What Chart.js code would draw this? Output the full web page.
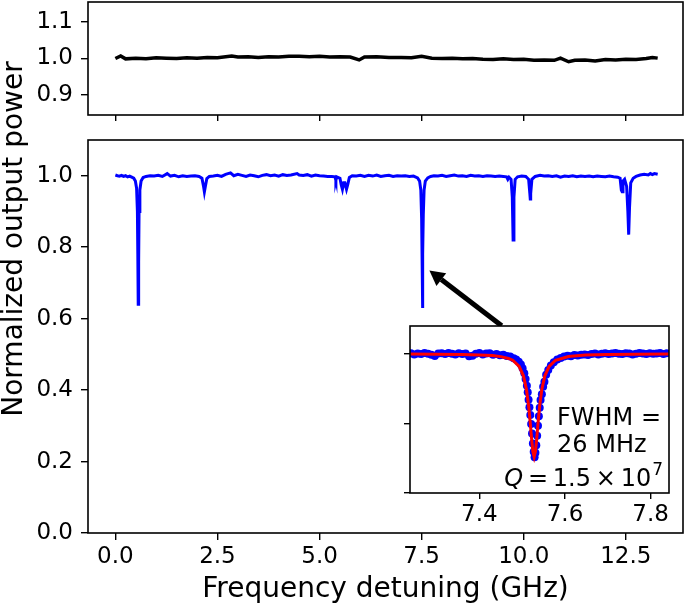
<!DOCTYPE html>
<html>
<head>
<meta charset="utf-8">
<script src="https://cdn.jsdelivr.net/npm/chart.js@4.4.0/dist/chart.umd.min.js"></script>
<style>
body{margin:0;background:#fff;}
#wrap{position:relative;width:685px;height:605px;}
canvas{position:absolute;}
</style>
</head>
<body>
<div id="wrap">
<canvas id="topChart" width="685" height="140" style="left:0;top:0"></canvas>
<canvas id="mainChart" width="685" height="605" style="left:0;top:0"></canvas>
<canvas id="insetChart" width="300" height="214" style="left:380px;top:316px"></canvas>
</div>
<script>
// reference trace (top panel)
var refFreq = [0.00,0.13,0.25,0.50,0.75,1.00,1.25,1.50,1.75,2.00,2.25,2.50,2.85,3.00,3.25,3.50,3.75,4.00,4.25,4.50,4.75,5.00,5.25,5.50,5.75,5.97,6.10,6.40,6.70,7.00,7.25,7.50,7.75,8.00,8.25,8.50,8.75,9.00,9.25,9.50,9.75,10.00,10.25,10.50,10.75,10.90,11.10,11.25,11.50,11.75,12.00,12.25,12.50,12.75,13.00,13.15,13.28];
var refPower = [1.000,1.007,0.999,1.001,0.999,1.002,1.001,1.000,1.002,1.001,1.003,1.002,1.007,1.004,1.005,1.003,1.005,1.004,1.006,1.006,1.005,1.006,1.004,1.005,1.004,0.996,1.004,1.005,1.003,1.003,1.002,1.006,1.001,1.000,1.001,0.999,1.000,0.998,0.997,0.999,0.997,0.998,0.995,0.996,0.995,1.001,0.991,0.995,0.996,0.993,0.997,0.996,0.998,0.997,1.000,1.003,1.001];

// transmission trace (bottom panel)
var mainFreq = [0.00,0.05,0.10,0.15,0.20,0.25,0.30,0.35,0.40,0.45,0.49,0.52,0.54,0.55,0.56,0.57,0.58,0.60,0.63,0.68,0.75,0.85,0.95,1.05,1.15,1.27,1.35,1.45,1.55,1.65,1.75,1.85,1.95,2.05,2.12,2.16,2.18,2.20,2.24,2.30,2.40,2.50,2.60,2.70,2.82,2.90,3.00,3.10,3.20,3.30,3.40,3.50,3.60,3.70,3.80,3.90,4.00,4.10,4.20,4.30,4.45,4.50,4.60,4.70,4.80,4.90,5.00,5.10,5.20,5.30,5.38,5.40,5.42,5.50,5.53,5.56,5.59,5.62,5.66,5.69,5.73,5.80,5.90,6.00,6.10,6.20,6.30,6.40,6.50,6.60,6.70,6.80,6.90,7.00,7.10,7.20,7.30,7.40,7.45,7.48,7.50,7.51,7.52,7.53,7.54,7.56,7.59,7.65,7.72,7.80,7.90,8.00,8.10,8.20,8.30,8.40,8.50,8.60,8.70,8.80,8.90,9.00,9.10,9.20,9.30,9.40,9.50,9.58,9.61,9.64,9.69,9.72,9.74,9.76,9.79,9.85,9.95,10.05,10.12,10.15,10.16,10.17,10.20,10.28,10.40,10.50,10.60,10.70,10.80,10.90,11.00,11.10,11.20,11.30,11.40,11.50,11.60,11.70,11.80,11.90,12.00,12.10,12.20,12.30,12.36,12.39,12.41,12.43,12.47,12.52,12.55,12.57,12.59,12.62,12.68,12.75,12.85,12.95,13.05,13.10,13.15,13.20,13.28];
var mainPower = [1.002,1.000,0.999,1.001,0.998,1.000,0.997,0.999,0.996,0.993,0.985,0.965,0.900,0.780,0.640,0.760,0.900,0.960,0.985,0.995,0.998,1.000,0.999,1.001,0.998,1.006,0.999,1.001,0.997,1.000,0.998,0.999,1.000,0.998,0.993,0.970,0.955,0.968,0.992,0.998,0.999,1.001,0.998,1.004,1.008,1.000,1.004,1.001,0.998,1.002,1.000,0.997,1.001,1.003,1.000,1.002,0.999,1.003,1.001,1.002,1.006,1.002,1.001,1.003,0.999,1.002,1.000,0.999,0.998,0.998,0.997,0.987,0.997,0.993,0.975,0.962,0.980,0.980,0.962,0.975,0.995,1.000,0.999,1.001,0.998,1.001,0.999,1.002,0.998,1.000,1.001,0.998,1.000,0.999,1.000,0.998,0.999,0.994,0.985,0.960,0.880,0.780,0.630,0.780,0.890,0.960,0.985,0.994,0.998,1.000,0.999,1.001,0.998,1.000,1.002,0.999,1.000,0.998,1.001,0.999,1.000,0.998,1.000,0.999,0.998,0.999,0.998,0.997,0.990,0.996,0.990,0.940,0.820,0.940,0.990,0.997,0.999,0.998,0.990,0.950,0.935,0.950,0.990,0.998,1.001,0.999,1.000,0.998,1.000,0.996,0.999,0.998,1.000,0.997,0.999,0.998,0.999,0.997,0.999,0.998,0.997,0.999,0.997,0.996,0.993,0.960,0.955,0.985,0.990,0.970,0.900,0.835,0.910,0.980,0.993,0.998,1.002,1.004,1.002,1.006,1.003,1.006,1.004];

// zoom on the 7.53 GHz resonance (inset)
var zoomFreq = [7.240,7.248,7.256,7.264,7.272,7.280,7.288,7.296,7.304,7.312,7.320,7.328,7.336,7.344,7.352,7.360,7.368,7.376,7.384,7.392,7.400,7.408,7.416,7.424,7.432,7.440,7.448,7.456,7.464,7.472,7.480,7.486,7.492,7.497,7.501,7.505,7.508,7.511,7.513,7.515,7.517,7.519,7.521,7.523,7.525,7.527,7.529,7.531,7.533,7.535,7.537,7.539,7.541,7.543,7.546,7.549,7.552,7.556,7.561,7.567,7.574,7.582,7.590,7.598,7.606,7.614,7.622,7.630,7.638,7.646,7.654,7.662,7.670,7.678,7.686,7.694,7.702,7.710,7.718,7.726,7.734,7.742,7.750,7.758,7.766,7.774,7.782,7.790,7.798,7.806,7.814,7.822,7.830,7.838];
var zoomPower = [1.002,0.998,1.001,0.999,1.003,1.000,0.997,0.992,1.001,1.002,0.999,1.003,1.000,0.998,1.002,0.999,1.001,0.991,0.993,1.000,1.003,0.998,1.001,1.002,0.997,0.999,0.995,0.997,0.992,0.990,0.984,0.980,0.972,0.962,0.948,0.930,0.910,0.885,0.862,0.835,0.808,0.780,0.748,0.714,0.678,0.648,0.628,0.645,0.672,0.706,0.742,0.776,0.806,0.834,0.855,0.882,0.900,0.925,0.942,0.958,0.970,0.980,0.985,0.990,0.993,0.991,0.996,0.994,0.997,0.998,0.996,0.999,1.001,0.998,1.000,1.002,0.999,1.001,1.003,1.000,0.999,1.002,1.001,0.998,1.000,1.003,1.001,0.999,1.002,1.000,1.001,1.003,0.999,1.002];
var fitFreq = [7.238,7.300,7.360,7.400,7.430,7.450,7.468,7.478,7.493,7.503,7.510,7.515,7.519,7.522,7.525,7.528,7.531,7.534,7.537,7.541,7.546,7.553,7.563,7.578,7.608,7.648,7.700,7.760,7.843];
var fitPower = [0.9992,0.9988,0.9978,0.9962,0.9936,0.9900,0.9834,0.9770,0.9550,0.9210,0.8730,0.8150,0.7500,0.6950,0.6490,0.6300,0.6490,0.6950,0.7500,0.8150,0.8730,0.9210,0.9550,0.9770,0.9905,0.9957,0.9979,0.9988,0.9993];

var freqTicks = [0, 2.5, 5, 7.5, 10, 12.5];
var mainTicks = [0, 0.2, 0.4, 0.6, 0.8, 1.0];
var refTicks = [0.9, 1.0, 1.1];
var zoomTicksX = [7.4, 7.6, 7.8];
var zoomTicksY = [0.5, 0.75, 1.0];

Chart.defaults.font.family = "DejaVu Sans";
Chart.defaults.color = '#000';

function pts(xs, ys) {
	var out = [];
	for (var i = 0; i < xs.length; i++) out.push({x: xs[i], y: ys[i]});
	return out;
}
function noPad(s) {
	s.paddingTop = 0; s.paddingBottom = 0; s.paddingLeft = 0; s.paddingRight = 0;
}

var boxPlugin = {
	id: 'box',
	beforeDraw: function(chart, args, opts) {
		if (!opts.fill) return;
		var a = chart.chartArea, c = chart.ctx;
		c.save();
		c.fillStyle = '#fff';
		c.fillRect(a.left, a.top, a.right - a.left, a.bottom - a.top);
		c.restore();
	},
	afterDraw: function(chart) {
		var a = chart.chartArea, c = chart.ctx;
		c.save();
		c.strokeStyle = '#000';
		c.lineWidth = 1.6;
		c.strokeRect(a.left, a.top, a.right - a.left, a.bottom - a.top);
		c.restore();
	}
};

function xAxis(min, max, ticks, showLabels, h, tickLen, fontSize, pad) {
	return {
		type: 'linear', min: min, max: max,
		afterBuildTicks: function(s) { s.ticks = ticks.map(function(v){ return {value: v}; }); },
		afterFit: function(s) { s.height = h; noPad(s); },
		border: {display: false},
		grid: {drawOnChartArea: false, color: '#000', lineWidth: 1.4, tickLength: tickLen},
		ticks: {display: showLabels, font: {size: fontSize}, padding: pad, maxRotation: 0,
			callback: function(v) { return v.toFixed(1); }}
	};
}
function yAxis(min, max, ticks, showLabels, w, tickLen) {
	return {
		min: min, max: max,
		afterBuildTicks: function(s) { s.ticks = ticks.map(function(v){ return {value: v}; }); },
		afterFit: function(s) { s.width = w; noPad(s); },
		border: {display: false},
		grid: {drawOnChartArea: false, color: '#000', lineWidth: 1.4, tickLength: tickLen},
		ticks: {display: showLabels, font: {size: 23}, padding: 8,
			callback: function(v) { return v.toFixed(1); }}
	};
}

var common = {
	responsive: false, animation: false, devicePixelRatio: 1,
	plugins: {legend: {display: false}, tooltip: {enabled: false}}
};

new Chart(document.getElementById('topChart'), {
	type: 'line',
	data: {datasets: [{data: pts(refFreq, refPower), borderColor: '#000', borderWidth: 3.5, pointRadius: 0, tension: 0}]},
	options: Object.assign({}, common, {
		layout: {padding: {top: 2, right: 2, left: 0, bottom: 0}},
		scales: {
			x: xAxis(-0.67, 13.9, freqTicks, false, 25, 6, 23, 2),
			y: yAxis(0.845, 1.155, refTicks, true, 88, 7)
		}
	}),
	plugins: [boxPlugin]
});

var arrowPlugin = {
	id: 'arrow',
	afterDatasetsDraw: function(chart) {
		var sx = chart.scales.x, sy = chart.scales.y, c = chart.ctx;
		var tx = sx.getPixelForValue(7.69), ty = sy.getPixelForValue(0.735);
		var bx = sx.getPixelForValue(9.46), by = sy.getPixelForValue(0.58);
		var ang = Math.atan2(ty - by, tx - bx);
		var hl = 15, hw = 8;
		var hx = tx - hl * Math.cos(ang), hy = ty - hl * Math.sin(ang);
		c.save();
		c.strokeStyle = '#000';
		c.fillStyle = '#000';
		c.lineWidth = 5;
		c.beginPath(); c.moveTo(bx, by); c.lineTo(hx, hy); c.stroke();
		c.beginPath();
		c.moveTo(tx, ty);
		c.lineTo(hx + hw * Math.sin(ang), hy - hw * Math.cos(ang));
		c.lineTo(hx - hw * Math.sin(ang), hy + hw * Math.cos(ang));
		c.closePath(); c.fill();
		c.restore();
	},
	afterDraw: function(chart) {
		var c = chart.ctx;
		c.save();
		c.translate(22, 239);
		c.rotate(-Math.PI / 2);
		c.font = '28px "DejaVu Sans"';
		c.fillStyle = '#000';
		c.textAlign = 'center';
		c.textBaseline = 'alphabetic';
		c.fillText('Normalized output power', 0, 0);
		c.restore();
	}
};

var mainX = xAxis(-0.67, 13.9, freqTicks, true, 72, 7, 23, 3);
mainX.title = {display: true, text: 'Frequency detuning (GHz)', font: {size: 28}, padding: {top: 0, bottom: -2}};

new Chart(document.getElementById('mainChart'), {
	type: 'line',
	data: {datasets: [{data: pts(mainFreq, mainPower), borderColor: '#0000ff', borderWidth: 3, pointRadius: 0, tension: 0}]},
	options: Object.assign({}, common, {
		layout: {padding: {top: 140, right: 2, left: 0, bottom: 0}},
		scales: {
			x: mainX,
			y: yAxis(0, 1.1, mainTicks, true, 88, 7)
		}
	}),
	plugins: [boxPlugin, arrowPlugin]
});

var insetText = {
	id: 'insetText',
	afterDraw: function(chart) {
		var c = chart.ctx;
		c.save();
		c.fillStyle = '#000';
		c.textBaseline = 'alphabetic';
		c.textAlign = 'left';
		c.font = '24px "DejaVu Sans"';
		c.fillText('FWHM =', 177, 109);
		c.fillText('26 MHz', 177, 136);
		var f1 = 'italic 24px "DejaVu Sans"', f2 = '24px "DejaVu Sans"', f3 = '17px "DejaVu Sans"';
		var p1 = 'Q', p2 = '\u2009=\u20091.5\u2009\u00d7\u200910', p3 = '7';
		c.font = f1; var w1 = c.measureText(p1).width;
		c.font = f2; var w2 = c.measureText(p2).width;
		c.font = f3; var w3 = c.measureText(p3).width;
		var x0 = 283 - (w1 + w2 + w3 + 1);
		c.font = f1; c.fillText(p1, x0, 170);
		c.font = f2; c.fillText(p2, x0 + w1, 170);
		c.font = f3; c.fillText(p3, x0 + w1 + w2 + 1, 159);
		c.restore();
	}
};

var insetOpts = Object.assign({}, common, {
	layout: {padding: {top: 10, right: 11, left: 0, bottom: 0}},
	scales: {
		x: xAxis(7.238, 7.843, zoomTicksX, true, 37, 6, 23, 2),
		y: yAxis(0.5, 1.1, zoomTicksY, false, 30, 6)
	}
});
insetOpts.plugins = Object.assign({}, common.plugins, {box: {fill: true}});

new Chart(document.getElementById('insetChart'), {
	type: 'line',
	data: {datasets: [
		{data: pts(fitFreq, fitPower), borderColor: '#ff0000', borderWidth: 3, pointRadius: 0, tension: 0, order: 0},
		{data: pts(zoomFreq, zoomPower), showLine: false, pointRadius: 4, pointBorderWidth: 0,
			pointBackgroundColor: '#0000ff', borderColor: '#0000ff', order: 1}
	]},
	options: insetOpts,
	plugins: [boxPlugin, insetText]
});
</script>
</body>
</html>
